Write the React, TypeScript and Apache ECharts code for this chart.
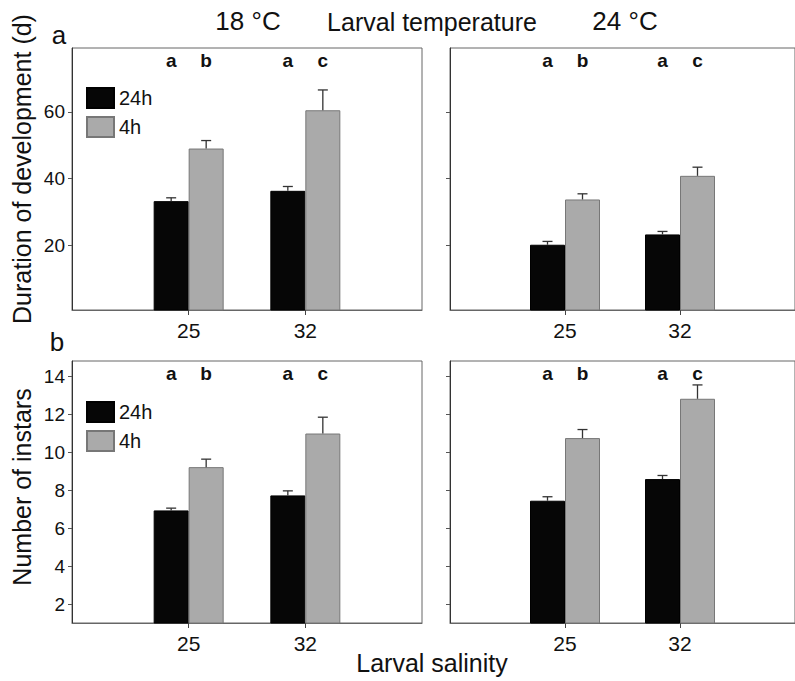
import { useEffect, useRef } from "react";
import * as echarts from "echarts";

// ---- data ----
const salinity = ["25", "32"];
const salinityPos = [1, 2];
const groups = ["24h", "4h"];
const tempLabels = ["18 °C", "24 °C"];

// Duration of development (d)
const dur24h_18 = [33.2, 36.3];
const dur24h_18Err = [1.0, 1.3];
const dur4h_18 = [49.0, 60.5];
const dur4h_18Err = [2.4, 6.1];
const dur24h_24 = [20.1, 23.2];
const dur24h_24Err = [1.0, 0.9];
const dur4h_24 = [33.7, 40.8];
const dur4h_24Err = [1.7, 2.6];

// Number of instars
const inst24h_18 = [6.93, 7.72];
const inst24h_18Err = [0.12, 0.24];
const inst4h_18 = [9.21, 10.98];
const inst4h_18Err = [0.42, 0.86];
const inst24h_24 = [7.44, 8.58];
const inst24h_24Err = [0.21, 0.19];
const inst4h_24 = [10.74, 12.81];
const inst4h_24Err = [0.45, 0.73];

// significance letters
const letters24h = ["a", "a"];
const letters4h = ["b", "c"];

const durTicks = [20, 40, 60];
const instTicks = [2, 4, 6, 8, 10, 12, 14];

const FONT = "'Liberation Sans', Arial, Helvetica, sans-serif";
const BAR_W = 35;

type Panel = {
  grid: { left: number; top: number; width: number; height: number };
  yMin: number;
  yMax: number;
  ticks: number[];
  showYLabels: boolean;
  m24: number[];
  e24: number[];
  m4: number[];
  e4: number[];
};

const panels: Panel[] = [
  { grid: { left: 72, top: 48, width: 350, height: 262 }, yMin: 0.5, yMax: 79.2, ticks: durTicks, showYLabels: true, m24: dur24h_18, e24: dur24h_18Err, m4: dur4h_18, e4: dur4h_18Err },
  { grid: { left: 450, top: 48, width: 350, height: 262 }, yMin: 0.5, yMax: 79.2, ticks: durTicks, showYLabels: false, m24: dur24h_24, e24: dur24h_24Err, m4: dur4h_24, e4: dur4h_24Err },
  { grid: { left: 72, top: 361, width: 350, height: 262 }, yMin: 1, yMax: 14.8, ticks: instTicks, showYLabels: true, m24: inst24h_18, e24: inst24h_18Err, m4: inst4h_18, e4: inst4h_18Err },
  { grid: { left: 450, top: 361, width: 350, height: 262 }, yMin: 1, yMax: 14.8, ticks: instTicks, showYLabels: false, m24: inst24h_24, e24: inst24h_24Err, m4: inst4h_24, e4: inst4h_24Err },
];

function errSeries(i: number, means: number[], errs: number[], offset: number, letters: string[]) {
  return {
    type: "custom",
    xAxisIndex: i,
    yAxisIndex: i,
    z: 5,
    silent: true,
    data: salinityPos.map((p, k) => [p, means[k], errs[k]]),
    renderItem: (params: any, api: any) => {
      const x = api.value(0);
      const m = api.value(1);
      const e = api.value(2);
      const base = api.coord([x, m]);
      const top = api.coord([x, m + e]);
      const cx = base[0] + offset;
      const cs = params.coordSys;
      return {
        type: "group",
        children: [
          { type: "line", shape: { x1: cx, y1: base[1], x2: cx, y2: top[1] }, style: { stroke: "#333", lineWidth: 1.3 } },
          { type: "line", shape: { x1: cx - 5, y1: top[1], x2: cx + 5, y2: top[1] }, style: { stroke: "#333", lineWidth: 1.3 } },
          {
            type: "text",
            x: cx,
            y: cs.y + 12,
            style: { text: letters[params.dataIndex], fontSize: 19, fontWeight: "bold", fill: "#111", align: "center", verticalAlign: "middle", fontFamily: FONT },
          },
        ],
      };
    },
  };
}

export default function App() {
  const ref = useRef<HTMLDivElement>(null);
  useEffect(() => {
    if (!ref.current) return;
    const chart = echarts.init(ref.current, null, { renderer: "svg" });
    const series: any[] = [];
    panels.forEach((p, i) => {
      series.push({
        type: "bar",
        name: groups[0],
        xAxisIndex: i,
        yAxisIndex: i,
        barWidth: BAR_W,
        barGap: "0%",
        data: salinityPos.map((x, k) => [x, p.m24[k]]),
        itemStyle: { color: "#060606", borderColor: "#000", borderWidth: 1 },
      });
      series.push({
        type: "bar",
        name: groups[1],
        xAxisIndex: i,
        yAxisIndex: i,
        barWidth: BAR_W,
        barGap: "0%",
        data: salinityPos.map((x, k) => [x, p.m4[k]]),
        itemStyle: { color: "#aaaaaa", borderColor: "#777", borderWidth: 1 },
      });
      series.push(errSeries(i, p.m24, p.e24, -BAR_W / 2, letters24h));
      series.push(errSeries(i, p.m4, p.e4, BAR_W / 2, letters4h));
    });

    const legendBase = {
      data: groups.map((name) => ({ name, icon: "rect" })),
      left: 86,
      orient: "vertical",
      itemWidth: 27,
      itemHeight: 20,
      itemGap: 7,
      padding: 0,
      selectedMode: false,
      textStyle: { fontSize: 20, color: "#111", fontFamily: FONT },
    };

    const option: any = {
      animation: false,
      backgroundColor: "#fff",
      textStyle: { fontFamily: FONT },
      grid: panels.map((p) => ({ ...p.grid, show: true, borderColor: "#666", borderWidth: 1, backgroundColor: "transparent" })),
      xAxis: panels.map((p, i) => ({
        type: "value",
        gridIndex: i,
        min: 0,
        max: 3,
        splitLine: { show: false },
        axisLine: { show: true, onZero: false, lineStyle: { color: "#666", width: 1 } },
        axisTick: { show: true, customValues: salinityPos, length: 5, lineStyle: { color: "#444" } },
        axisLabel: {
          show: true,
          customValues: salinityPos,
          formatter: (v: number) => salinity[Math.round(v) - 1] ?? "",
          fontSize: 21,
          color: "#111",
          margin: 10,
          fontFamily: FONT,
        },
      })),
      yAxis: panels.map((p, i) => ({
        type: "value",
        gridIndex: i,
        min: p.yMin,
        max: p.yMax,
        splitLine: { show: false },
        axisLine: { show: true, onZero: false, lineStyle: { color: "#333", width: 1 } },
        axisTick: { show: true, customValues: p.ticks, length: 4, lineStyle: { color: "#555" } },
        axisLabel: {
          show: p.showYLabels,
          customValues: p.ticks,
          fontSize: 19,
          color: "#111",
          margin: 7,
          fontFamily: FONT,
        },
      })),
      legend: [
        { ...legendBase, top: 87 },
        { ...legendBase, top: 401 },
      ],
      series,
      graphic: [
        { type: "text", x: 248, y: 21, style: { text: tempLabels[0], fontSize: 26, fill: "#111", align: "center", verticalAlign: "middle", fontFamily: FONT } },
        { type: "text", x: 432, y: 22, style: { text: "Larval temperature", fontSize: 25, fill: "#111", align: "center", verticalAlign: "middle", fontFamily: FONT } },
        { type: "text", x: 625, y: 21, style: { text: tempLabels[1], fontSize: 26, fill: "#111", align: "center", verticalAlign: "middle", fontFamily: FONT } },
        { type: "text", x: 432, y: 663, style: { text: "Larval salinity", fontSize: 25, fill: "#111", align: "center", verticalAlign: "middle", fontFamily: FONT } },
        { type: "text", x: 59, y: 35, style: { text: "a", fontSize: 26, fill: "#111", align: "center", verticalAlign: "middle", fontFamily: FONT } },
        { type: "text", x: 57, y: 342, style: { text: "b", fontSize: 26, fill: "#111", align: "center", verticalAlign: "middle", fontFamily: FONT } },
        { type: "text", x: 22, y: 169, rotation: Math.PI / 2, style: { text: "Duration of development (d)", fontSize: 25, fill: "#111", align: "center", verticalAlign: "middle", fontFamily: FONT } },
        { type: "text", x: 22, y: 487, rotation: Math.PI / 2, style: { text: "Number of instars", fontSize: 25, fill: "#111", align: "center", verticalAlign: "middle", fontFamily: FONT } },
      ],
    };
    chart.setOption(option);
    return () => chart.dispose();
  }, []);
  return <div ref={ref} style={{ position: "absolute", left: 0, top: 0, width: 795, height: 681 }} />;
}
